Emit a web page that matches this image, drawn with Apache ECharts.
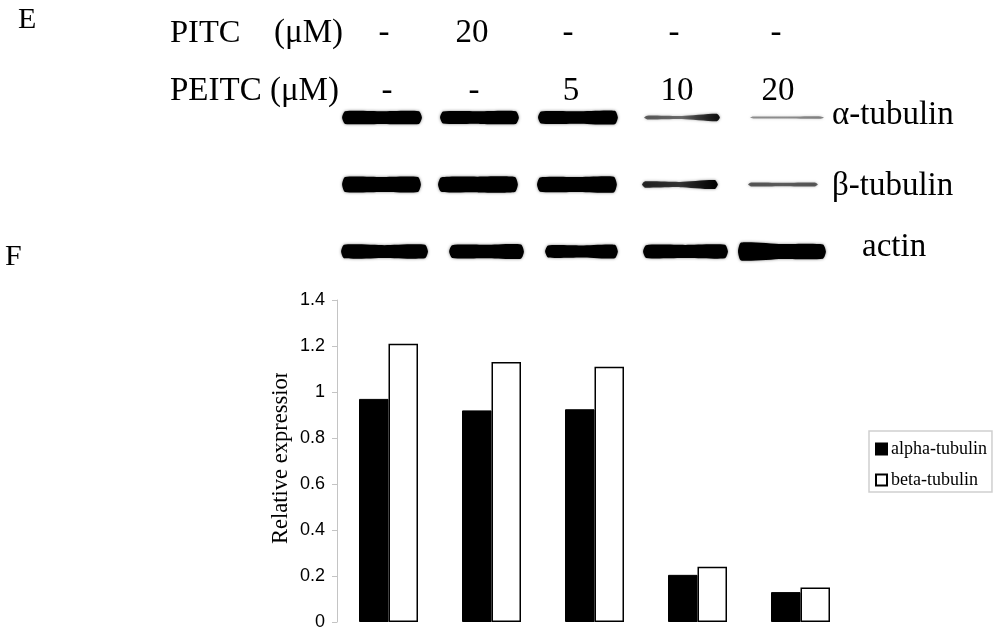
<!DOCTYPE html>
<html>
<head>
<meta charset="utf-8">
<title>Tubulin expression</title>
<script src="https://cdn.jsdelivr.net/npm/echarts@6/dist/echarts.min.js"></script>
<style>
  html, body { margin: 0; padding: 0; background: #fff; }
  #main { width: 1002px; height: 639px; }
</style>
</head>
<body>
<div id="main"></div>
<script>
const treatments = ['1', '2', '3', '4', '5']
const alphaTubulin = [0.97, 0.92, 0.925, 0.205, 0.13]
const betaTubulin = [1.21, 1.13, 1.11, 0.24, 0.15]
const yTicks = [0, 0.2, 0.4, 0.6, 0.8, 1, 1.2, 1.4]

const pitcDoses = ['-', '20', '-', '-', '-']
const peitcDoses = ['-', '-', '5', '10', '20']
const blotRows = ['α-tubulin', 'β-tubulin', 'actin']

// blot bands, in lane units, one list per row
const bandStart = [
  [0.11, 1.08, 2.05, 3.10, 4.15],
  [0.11, 1.06, 2.04, 3.08, 4.13],
  [0.10, 1.17, 2.12, 3.09, 4.03],
]
const bandEnd = [
  [0.90, 1.86, 2.84, 3.85, 4.88],
  [0.89, 1.85, 2.83, 3.83, 4.82],
  [0.96, 1.91, 2.84, 3.93, 4.90],
]
// how heavy each band looks at its left end, middle and right end
const bandLeft = [
  [0.85, 0.8, 0.8, 0.25, 0.12],
  [1.0, 0.95, 0.95, 0.42, 0.26],
  [0.9, 0.85, 0.8, 0.85, 1.2],
]
const bandMid = [
  [0.85, 0.85, 0.82, 0.2, 0.12],
  [1.0, 1.05, 1.0, 0.35, 0.24],
  [0.85, 0.9, 0.8, 0.88, 1.0],
]
const bandRight = [
  [0.85, 0.85, 0.9, 0.5, 0.15],
  [1.0, 1.0, 1.05, 0.6, 0.26],
  [0.9, 0.95, 0.9, 0.9, 0.95],
]

const bands = []
blotRows.forEach((name, row) => {
  treatments.forEach((t, lane) => {
    bands.push([
      bandStart[row][lane], bandEnd[row][lane], row,
      bandLeft[row][lane], bandMid[row][lane], bandRight[row][lane],
    ])
  })
})

const serif = '"Liberation Serif", serif'

function label(text, x, y, size, align) {
  return {
    type: 'text',
    x: x,
    y: y,
    style: {
      text: text,
      fill: '#000',
      font: size + 'px ' + serif,
      align: align || 'center',
      verticalAlign: 'middle',
    },
  }
}

const pitcX = [384, 472, 568, 674, 776]
const peitcX = [387, 474, 571, 677, 778]
const rowLabelX = [832, 832, 862]
const rowLabelY = [115, 186, 247]

const graphics = [
  label('E', 18, 20, 30, 'left'),
  label('F', 5, 257, 30, 'left'),
  label('PITC', 170, 33, 32.5, 'left'),
  label('(μM)', 274, 33, 33, 'left'),
  label('PEITC (μM)', 170, 91, 33, 'left'),
]
pitcDoses.forEach((d, i) => graphics.push(label(d, pitcX[i], 33, 33)))
peitcDoses.forEach((d, i) => graphics.push(label(d, peitcX[i], 91, 33)))
blotRows.forEach((r, i) => graphics.push(label(r, rowLabelX[i], rowLabelY[i], 33, 'left')))
// the original crops the last letter of the axis title
graphics.push({
  type: 'rect',
  z: 100,
  shape: { x: 266, y: 355, width: 28, height: 18 },
  style: { fill: '#fff' },
})

function shade(v) {
  return 'rgba(0,0,0,' + Math.min(1, 0.22 + v * 1.4) + ')'
}

const chart = echarts.init(document.getElementById('main'))
chart.setOption({
  animation: false,
  backgroundColor: '#fff',
  graphic: graphics,
  grid: [
    { left: 337, top: 300, width: 515, height: 322 },
    { left: 331, top: 84, width: 505, height: 201 },
  ],
  xAxis: [
    {
      type: 'category',
      gridIndex: 0,
      data: treatments,
      axisLine: { show: false },
      axisTick: { show: false },
      axisLabel: { show: false },
    },
    { type: 'value', gridIndex: 1, min: 0, max: 5, show: false },
  ],
  yAxis: [
    {
      type: 'value',
      gridIndex: 0,
      min: 0,
      max: 1.4,
      interval: 0.2,
      name: 'Relative expression',
      nameLocation: 'middle',
      nameMoveOverlap: false,
      nameGap: 44,
      nameTextStyle: {
        fontFamily: serif,
        fontSize: 22.5,
        color: '#000',
        padding: [0, 0, 0, 11],
      },
      axisLine: { show: true, lineStyle: { color: '#c4c4c4', width: 1 } },
      axisTick: { show: true, length: 5, lineStyle: { color: '#c4c4c4', width: 1 } },
      axisLabel: {
        fontFamily: '"Liberation Sans", sans-serif',
        fontSize: 18,
        color: '#000',
        margin: 12,
        formatter: (v) => (yTicks.includes(+v.toFixed(1)) ? String(+v.toFixed(1)) : ''),
      },
      splitLine: { show: false },
    },
    {
      type: 'category',
      gridIndex: 1,
      inverse: true,
      data: blotRows,
      show: false,
    },
  ],
  legend: {
    data: ['alpha-tubulin', 'beta-tubulin'],
    orient: 'vertical',
    left: 869,
    top: 431,
    padding: [9, 5, 3, 6],
    itemWidth: 11,
    itemHeight: 11,
    itemGap: 13,
    icon: 'rect',
    borderColor: '#cfcfcf',
    borderWidth: 1.5,
    textStyle: { fontFamily: serif, fontSize: 18, color: '#000', padding: [0, 0, 0, -1] },
  },
  series: [
    {
      name: 'alpha-tubulin',
      type: 'bar',
      data: alphaTubulin,
      barWidth: 29.5,
      barGap: 0,
      itemStyle: { color: '#000', borderColor: '#000', borderWidth: 1 },
    },
    {
      name: 'beta-tubulin',
      type: 'bar',
      data: betaTubulin,
      barWidth: 29.5,
      itemStyle: { color: '#fff', borderColor: '#000', borderWidth: 1.5 },
    },
    {
      name: 'blot',
      type: 'custom',
      xAxisIndex: 1,
      yAxisIndex: 1,
      data: bands,
      renderItem: (params, api) => {
        const left = api.coord([api.value(0), api.value(2)])
        const right = api.coord([api.value(1), api.value(2)])
        const midX = (left[0] + right[0]) / 2
        const y = left[1]
        const dl = api.value(3)
        const dm = api.value(4)
        const dr = api.value(5)
        const hl = dl * 15
        const hm = dm * 15
        const hr = dr * 15
        return {
          type: 'polygon',
          shape: {
            smooth: 0.2,
            points: [
              [left[0], y],
              [left[0] + 3, y - hl / 2],
              [midX, y - hm / 2],
              [right[0] - 3, y - hr / 2],
              [right[0], y],
              [right[0] - 3, y + hr / 2],
              [midX, y + hm / 2],
              [left[0] + 3, y + hl / 2],
            ],
          },
          style: {
            fill: new echarts.graphic.LinearGradient(0, 0, 1, 0, [
              { offset: 0, color: shade(dl) },
              { offset: 0.5, color: shade(dm) },
              { offset: 1, color: shade(dr) },
            ]),
            shadowBlur: 3,
            shadowColor: 'rgba(0,0,0,0.5)',
          },
        }
      },
    },
  ],
})
</script>
</body>
</html>
